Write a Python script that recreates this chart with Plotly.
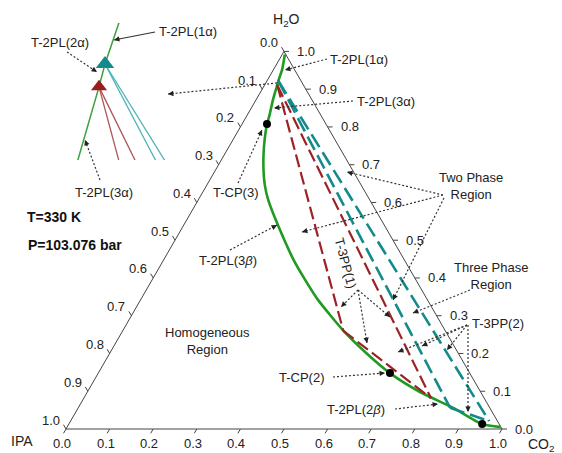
import math
import plotly.graph_objects as go

# ---------------- data (mole fractions) ----------------
tick_vals = [0.0, 0.1, 0.2, 0.3, 0.4, 0.5, 0.6, 0.7, 0.8, 0.9, 1.0]
tick_text = ["0.0", "0.1", "0.2", "0.3", "0.4", "0.5", "0.6", "0.7", "0.8", "0.9", "1.0"]

# binodal (green) curve: CO2 and H2O mole fractions
green_co2 = [0.006, 0.020, 0.026, 0.029, 0.039, 0.051, 0.057, 0.073, 0.090, 0.110, 0.133,
             0.161, 0.216, 0.298, 0.351, 0.407, 0.504, 0.584, 0.669, 0.763, 0.860, 0.948, 0.995]
green_h2o = [0.992, 0.951, 0.922, 0.911, 0.871, 0.832, 0.808, 0.765, 0.726, 0.686, 0.646,
             0.606, 0.540, 0.448, 0.395, 0.342, 0.262, 0.204, 0.148, 0.098, 0.056, 0.013, 0.005]

# three-phase triangle T-3PP(1) (red): alpha, beta1, beta2
red_co2 = [0.029, 0.506, 0.796]
red_h2o = [0.911, 0.260, 0.082]
# three-phase triangle T-3PP(2) (teal)
teal_co2 = [0.026, 0.853, 0.960]
teal_h2o = [0.922, 0.056, 0.021]

# critical points (black dots)
cp_co2 = [0.057, 0.669, 0.948]
cp_h2o = [0.808, 0.148, 0.013]

# ---------------- geometry helpers ----------------
S = math.sqrt(3) / 2
W, H = 562, 453
X0, Y0, SC = 66, 429, 436  # pixel position of IPA corner and triangle side length


def txy(co2, h2o):
    return co2 + 0.5 * h2o, S * h2o


def txy_list(co2s, h2os):
    xs, ys = [], []
    for c, h in zip(co2s, h2os):
        if c is None:
            xs.append(None); ys.append(None)
        else:
            x, y = txy(c, h); xs.append(x); ys.append(y)
    return xs, ys


def paper(px, py):
    return px / W, 1 - py / H


def tri_edges(co2s, h2os):
    a, b, c = 0, 1, 2
    order = [a, b, None, a, c, None, b, c]
    cs = [co2s[i] if i is not None else None for i in order]
    hs = [h2os[i] if i is not None else None for i in order]
    return txy_list(cs, hs)


FONT = "Liberation Sans, Arial, sans-serif"
TXT = "#222222"
GREEN = "#1f9a22"
RED = "#9c2226"
TEAL = "#138a8c"

fig = go.Figure()

# triangle frame
fx, fy = txy_list([0, 1, 0, 0], [0, 0, 1, 0])
fig.add_trace(go.Scatter(x=fx, y=fy, mode="lines", line=dict(color="#444", width=1),
                         hoverinfo="skip", showlegend=False))

# tick marks
L = 5 / SC
tkx, tky = [], []
for v in tick_vals:
    x, y = txy(v, 0)
    tkx += [x, x - 0.5 * L, None]; tky += [y, y - S * L, None]
    x, y = txy(1 - v, v)
    tkx += [x, x + L, None]; tky += [y, y, None]
    x, y = txy(0, 1 - v)
    tkx += [x, x - 0.5 * L, None]; tky += [y, y + S * L, None]
fig.add_trace(go.Scatter(x=tkx, y=tky, mode="lines", line=dict(color="#444", width=1),
                         hoverinfo="skip", showlegend=False))

# binodal curve
gx, gy = txy_list(green_co2, green_h2o)
fig.add_trace(go.Scatter(x=gx, y=gy, mode="lines",
                         line=dict(color=GREEN, width=2.6, shape="spline", smoothing=0.6),
                         hoverinfo="skip", showlegend=False))

# three phase triangles
rx, ry = tri_edges(red_co2, red_h2o)
fig.add_trace(go.Scatter(x=rx, y=ry, mode="lines",
                         line=dict(color=RED, width=2.2, dash="13px,5px"),
                         hoverinfo="skip", showlegend=False))
qx, qy = tri_edges(teal_co2, teal_h2o)
fig.add_trace(go.Scatter(x=qx, y=qy, mode="lines",
                         line=dict(color=TEAL, width=2.6, dash="15px,6px"),
                         hoverinfo="skip", showlegend=False))

# critical points
cx, cy = txy_list(cp_co2, cp_h2o)
fig.add_trace(go.Scatter(x=cx, y=cy, mode="markers", marker=dict(color="black", size=8),
                         hoverinfo="skip", showlegend=False))

# ---------------- inset (magnified view near the H2O-rich phase) ----------------
M = 5.5
ax_pix = (105, 64)
dom_px = (60, 175)
dom_py = (23, 160)
atx, aty = txy(teal_co2[0], teal_h2o[0])
inset_xr = [atx + (dom_px[0] - ax_pix[0]) / (M * SC), atx + (dom_px[1] - ax_pix[0]) / (M * SC)]
inset_yr = [aty - (dom_py[1] - ax_pix[1]) / (M * SC), aty + (ax_pix[1] - dom_py[0]) / (M * SC)]

fig.add_trace(go.Scatter(x=gx, y=gy, mode="lines", line=dict(color="#3c9e3c", width=1.5),
                         xaxis="x2", yaxis="y2", hoverinfo="skip", showlegend=False))
irx, iry = txy_list([red_co2[0], red_co2[1], None, red_co2[0], red_co2[2]],
                    [red_h2o[0], red_h2o[1], None, red_h2o[0], red_h2o[2]])
fig.add_trace(go.Scatter(x=irx, y=iry, mode="lines", line=dict(color="#b05656", width=1.3),
                         xaxis="x2", yaxis="y2", hoverinfo="skip", showlegend=False))
iqx, iqy = txy_list([teal_co2[0], teal_co2[1], None, teal_co2[0], teal_co2[2]],
                    [teal_h2o[0], teal_h2o[1], None, teal_h2o[0], teal_h2o[2]])
fig.add_trace(go.Scatter(x=iqx, y=iqy, mode="lines", line=dict(color="#4fb3b6", width=1.3),
                         xaxis="x2", yaxis="y2", hoverinfo="skip", showlegend=False))
px_r, py_r = txy(red_co2[0], red_h2o[0])
fig.add_trace(go.Scatter(x=[px_r], y=[py_r], mode="markers",
                         marker=dict(symbol="triangle-up", size=14, color="#9b1c1c"),
                         xaxis="x2", yaxis="y2", hoverinfo="skip", showlegend=False))
fig.add_trace(go.Scatter(x=[atx], y=[aty], mode="markers",
                         marker=dict(symbol="triangle-up", size=16, color="#138a8a"),
                         xaxis="x2", yaxis="y2", hoverinfo="skip", showlegend=False))

# ---------------- annotations ----------------
annotations = []
shapes = []

for v, t in zip(tick_vals, tick_text):
    x, y = txy(v, 0)
    annotations.append(dict(x=x, y=y, xref="x", yref="y", text=t, showarrow=False,
                            xanchor="center", yanchor="middle", xshift=-4, yshift=-14,
                            font=dict(family=FONT, size=13, color=TXT)))
    x, y = txy(1 - v, v)
    annotations.append(dict(x=x, y=y, xref="x", yref="y", text=t, showarrow=False,
                            xanchor="left", yanchor="middle", xshift=11, yshift=0,
                            font=dict(family=FONT, size=13, color=TXT)))
    x, y = txy(0, 1 - v)
    annotations.append(dict(x=x, y=y, xref="x", yref="y", text=t, showarrow=False,
                            xanchor="right", yanchor="middle", xshift=-4, yshift=9,
                            font=dict(family=FONT, size=13, color=TXT)))

for text, px_, py_, anc in [("H<sub>2</sub>O", 286, 20, "center"), ("IPA", 22, 441, "center"),
                            ("CO<sub>2</sub>", 526, 445, "left")]:
    xx, yy = paper(px_, py_)
    annotations.append(dict(x=xx, y=yy, xref="paper", yref="paper", text=text, showarrow=False,
                            xanchor=anc, yanchor="middle",
                            font=dict(family=FONT, size=14, color=TXT)))

labels = [
    ("T-2PL(1α)", 157, 31, "left"),
    ("T-2PL(2α)", 60, 42, "center"),
    ("T-2PL(3α)", 104, 193, "center"),
    ("T-2PL(1α)", 328, 59, "left"),
    ("T-2PL(3α)", 355, 101, "left"),
    ("T-CP(3)", 236, 193, "center"),
    ("T-2PL(3<i>β</i>)", 228, 260, "center"),
    ("Two Phase<br>Region", 471, 186, "center"),
    ("Homogeneous<br>Region", 208, 341, "center"),
    ("Three Phase<br>Region", 491, 276, "center"),
    ("T-3PP(2)", 470, 323, "left"),
    ("T-CP(2)", 302, 377, "center"),
    ("T-2PL(2<i>β</i>)", 356, 409, "center"),
]
for text, px_, py_, anc in labels:
    xx, yy = paper(px_, py_)
    annotations.append(dict(x=xx, y=yy, xref="paper", yref="paper", text=text, showarrow=False,
                            xanchor=anc, yanchor="middle",
                            font=dict(family=FONT, size=13, color=TXT)))

xx, yy = paper(346, 263)
annotations.append(dict(x=xx, y=yy, xref="paper", yref="paper", text="T-3PP(1)", showarrow=False,
                        textangle=75, font=dict(family=FONT, size=13, color=TXT)))

for text, px_, py_ in [("<b>T=330 K</b>", 25, 217), ("<b>P=103.076 bar</b>", 26, 245)]:
    xx, yy = paper(px_, py_)
    annotations.append(dict(x=xx, y=yy, xref="paper", yref="paper", text=text, showarrow=False,
                            xanchor="left", yanchor="middle",
                            font=dict(family=FONT, size=14, color="#111")))

arrows = [
    (155, 32, 114, 40, "solid"),
    (67, 52, 97, 72, "dot"),
    (100, 180, 85, 140, "dot"),
    (277, 83, 168, 94, "dot"),
    (327, 59, 285, 70, "dot"),
    (353, 101, 274, 108, "dot"),
    (238, 183, 262, 130, "dot"),
    (230, 250, 277, 225, "dot"),
    (443, 195, 347, 172, "dot"),
    (443, 195, 302, 232, "dot"),
    (444, 198, 393, 300, "dot"),
    (358, 290, 341, 307, "dot"),
    (358, 290, 367, 343, "dot"),
    (358, 290, 390, 317, "dot"),
    (470, 290, 413, 313, "dot"),
    (467, 325, 398, 352, "dot"),
    (467, 325, 422, 346, "dot"),
    (467, 325, 447, 350, "dot"),
    (468, 325, 468, 412, "dot"),
    (333, 377, 385, 373, "dot"),
    (395, 409, 438, 404, "dot"),
]
for tx, ty, hx, hy, style in arrows:
    x0, y0 = paper(tx, ty)
    x1, y1 = paper(hx, hy)
    shapes.append(dict(type="line", xref="paper", yref="paper", x0=x0, y0=y0, x1=x1, y1=y1,
                       line=dict(color="#333", width=1.2 if style == "dot" else 1.1,
                                 dash="2px,2px" if style == "dot" else "solid")))
    d = math.hypot(tx - hx, ty - hy)
    ux, uy = (tx - hx) / d, (ty - hy) / d
    annotations.append(dict(x=x1, y=y1, xref="paper", yref="paper", text="", showarrow=True,
                            ax=ux * 7, ay=uy * 7, axref="pixel", ayref="pixel",
                            arrowhead=2, arrowsize=0.9, arrowwidth=1.2, arrowcolor="#222",
                            standoff=0, startstandoff=0))

fig.update_layout(
    width=W, height=H,
    margin=dict(l=0, r=0, t=0, b=0),
    paper_bgcolor="white", plot_bgcolor="rgba(0,0,0,0)",
    xaxis=dict(range=[(0 - X0) / SC, (W - X0) / SC], visible=False, domain=[0, 1], fixedrange=True),
    yaxis=dict(range=[(Y0 - H) / SC, Y0 / SC], visible=False, domain=[0, 1], fixedrange=True),
    xaxis2=dict(range=inset_xr, visible=False, domain=[dom_px[0] / W, dom_px[1] / W],
                anchor="y2", fixedrange=True),
    yaxis2=dict(range=inset_yr, visible=False, domain=[1 - dom_py[1] / H, 1 - dom_py[0] / H],
                anchor="x2", fixedrange=True),
    annotations=annotations,
    shapes=shapes,
    showlegend=False,
)

fig.write_html("out.html")
